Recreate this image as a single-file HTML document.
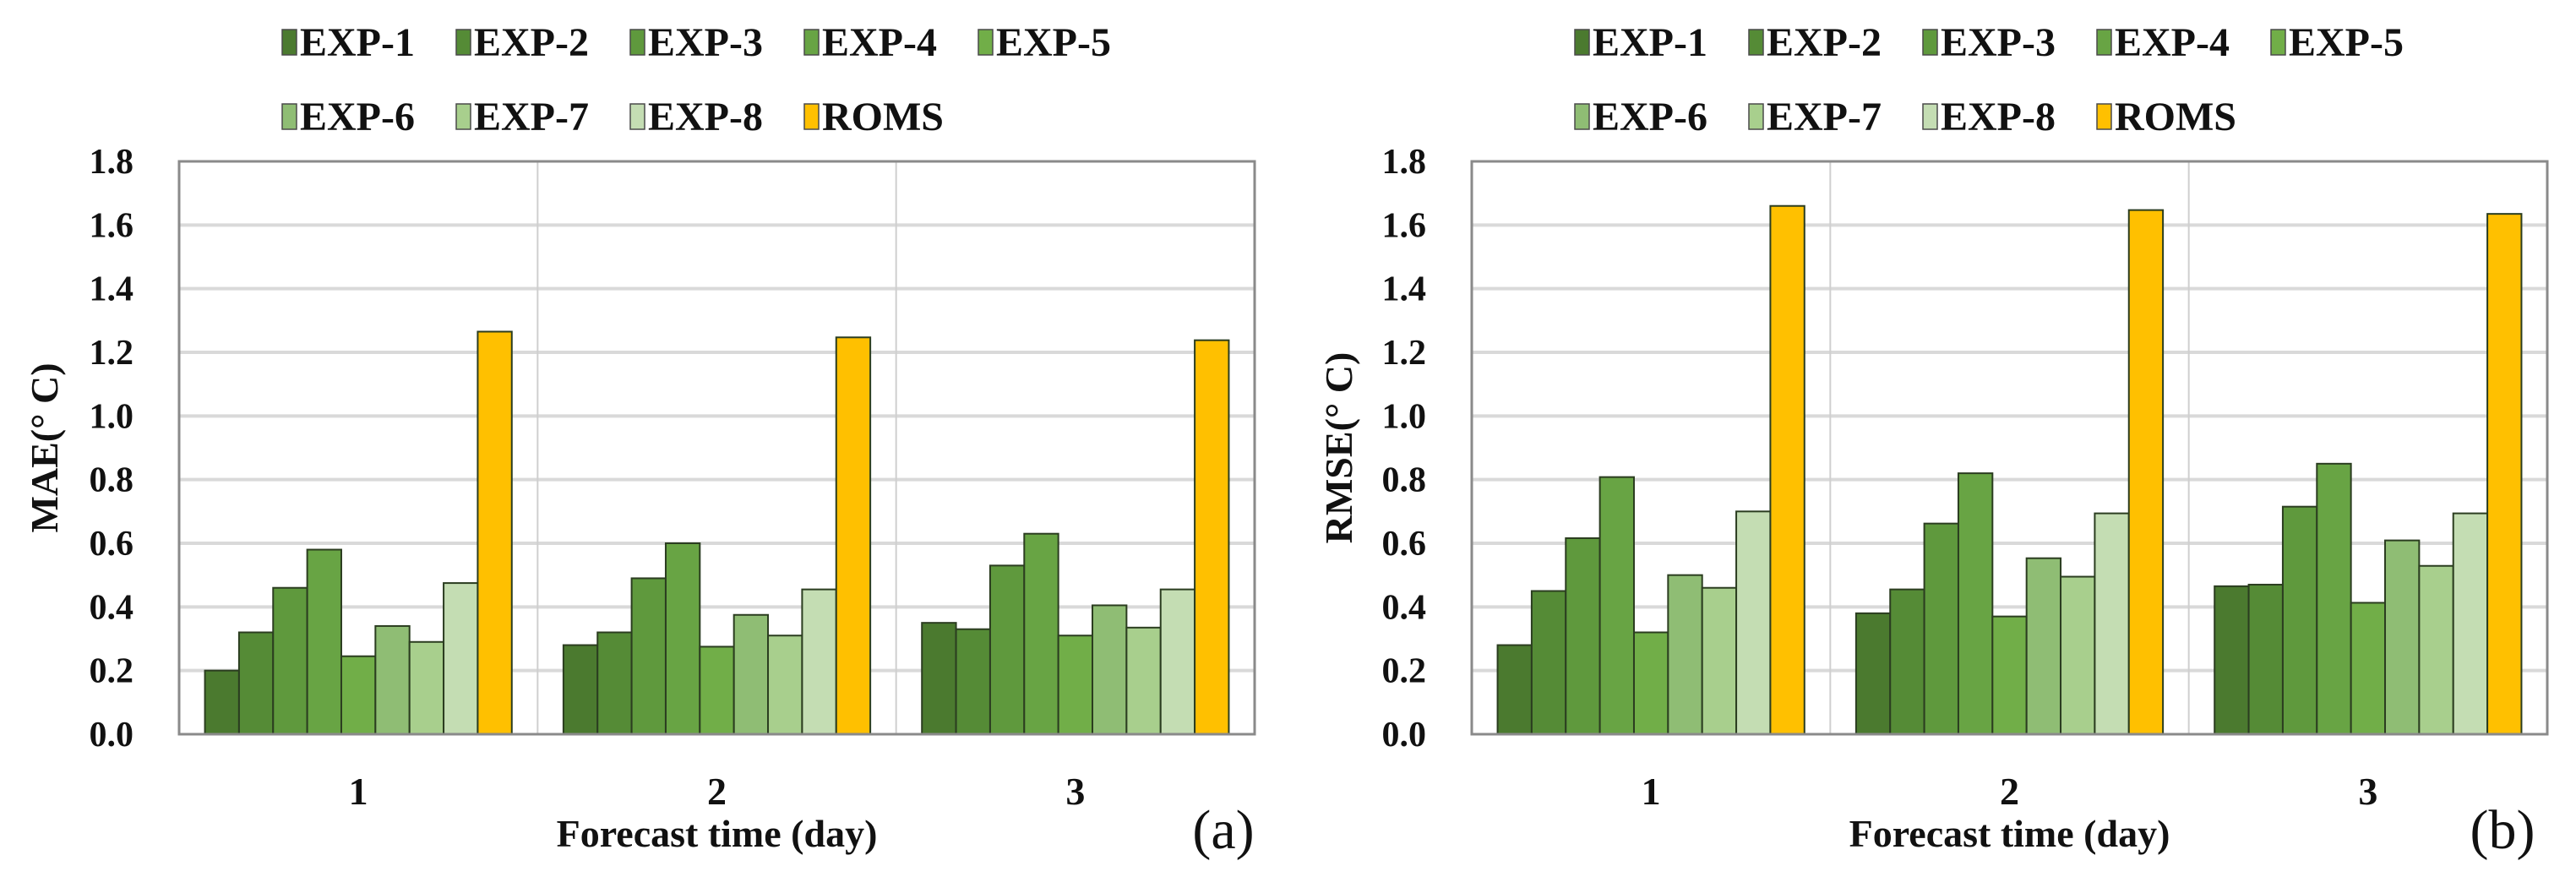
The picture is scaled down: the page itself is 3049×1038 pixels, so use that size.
<!DOCTYPE html>
<html><head><meta charset="utf-8"><style>
html,body{margin:0;padding:0;background:#fff;}
svg{display:block;font-family:"Liberation Serif",serif;}
</style></head><body>
<svg id="chart" width="3049" height="1038" viewBox="0 0 3049 1038" xmlns="http://www.w3.org/2000/svg"></svg>
<script>
const categories = ["1","2","3"];
const seriesNames = ["EXP-1","EXP-2","EXP-3","EXP-4","EXP-5","EXP-6","EXP-7","EXP-8","ROMS"];
const maeValues = [
  [0.20,0.28,0.35],
  [0.32,0.32,0.33],
  [0.46,0.49,0.53],
  [0.58,0.60,0.63],
  [0.245,0.275,0.31],
  [0.34,0.375,0.405],
  [0.29,0.31,0.335],
  [0.475,0.455,0.455],
  [1.265,1.247,1.238]
];
const rmseValues = [
  [0.28,0.38,0.465],
  [0.45,0.455,0.47],
  [0.616,0.662,0.715],
  [0.808,0.82,0.85],
  [0.32,0.37,0.413],
  [0.50,0.553,0.609],
  [0.46,0.495,0.529],
  [0.70,0.694,0.694],
  [1.66,1.647,1.635]
];
const yTicks = ["0.0","0.2","0.4","0.6","0.8","1.0","1.2","1.4","1.6","1.8"];
const colors = ["#4b7a2f","#558b36","#5f993d","#68a444","#71ae48","#8fbd74","#a8cf8d","#c4ddb3","#ffc000"];
const NS = "http://www.w3.org/2000/svg";
const svg = document.getElementById("chart");
function mk(tag, attrs, parent){const e=document.createElementNS(NS,tag);for(const k in attrs)e.setAttribute(k,attrs[k]);(parent||svg).appendChild(e);return e;}

function panel(cfg){
  const g = mk("g",{});
  
  
  const L=cfg.left,R=cfg.right,T=191,B=869,yMax=1.8;
  const y = v => B - (v/yMax)*(B-T);
  const gw = (R-L)/categories.length;
  const x0 = i => L + i*gw;
  yTicks.forEach((t,i)=>{
    const v=parseFloat(t);
    if(v>0 && v<yMax){
      const ln=mk("line",{x1:L,x2:R,y1:y(v),y2:y(v),stroke:"#d9d9d9","stroke-width":4},g);
      
      
    }
    const tx=mk("text",{x:L-54,y:y(v)+14,"text-anchor":"end","font-size":42,"font-weight":"bold",fill:"#111"},g);
    tx.textContent=t;
    
    
  });
  for(let i=1;i<categories.length;i++){
    const s=mk("line",{x1:x0(i),x2:x0(i),y1:T,y2:B,stroke:"#cfcfcf","stroke-width":2},g);
    
    
  }
  const n=seriesNames.length;
  const barsSpan=gw*0.856, bw=barsSpan/n, off=(gw-barsSpan)/2;
  cfg.values.forEach((vals,si)=>{
    vals.forEach((v,ci)=>{
      const r=mk("rect",{x:x0(ci)+off+si*bw,y:y(v),width:bw,height:B-y(v),fill:colors[si],stroke:"#2b3d20","stroke-width":2},g);
      
      
    });
  });
  const f=mk("rect",{x:L,y:T,width:R-L,height:B-T,fill:"none",stroke:"#8a8a8a","stroke-width":3},g);
  
  
  categories.forEach((c,i)=>{
    const t=mk("text",{x:x0(i)+gw/2,y:952,"text-anchor":"middle","font-size":46,"font-weight":"bold",fill:"#111"},g);
    t.textContent=c;
    
    
  });
  const xt=mk("text",{x:(L+R)/2,y:1002,"text-anchor":"middle","font-size":46,"font-weight":"bold",fill:"#111"},g);
  xt.textContent="Forecast time (day)";
  
  
  const yt=mk("text",{x:0,y:0,"text-anchor":"middle","font-size":46,"font-weight":"bold",fill:"#111",transform:`translate(${cfg.yTitleX},530) rotate(-90)`},g);
  yt.textContent=cfg.yTitle;
  
  
  const pl=mk("text",{x:cfg.labelX,y:1004,"text-anchor":"middle","font-size":66,fill:"#111"},g);
  pl.textContent=cfg.label;
  
  
  seriesNames.forEach((s,i)=>{
    const row=i<5?0:1, col=i<5?i:i-5;
    const lx=cfg.legendX+col*206, ly=row?138:50;
    const lg=mk("g",{},g);
    
    
    mk("rect",{x:lx,y:ly-15,width:17,height:30,fill:colors[i],stroke:"#4a4a4a","stroke-width":1.5},lg);
    const t=mk("text",{x:lx+21,y:ly+16,"font-size":48,"font-weight":"bold",fill:"#111"},lg);
    t.textContent=s;
  });
}
panel({name:"mae-panel",left:212,right:1485,values:maeValues,yTitle:"MAE(°  C)",yTitleX:68,label:"(a)",labelX:1448,legendX:334});
panel({name:"rmse-panel",left:1742,right:3015,values:rmseValues,yTitle:"RMSE(°  C)",yTitleX:1600,label:"(b)",labelX:2962,legendX:1864});
</script>
</body></html>
